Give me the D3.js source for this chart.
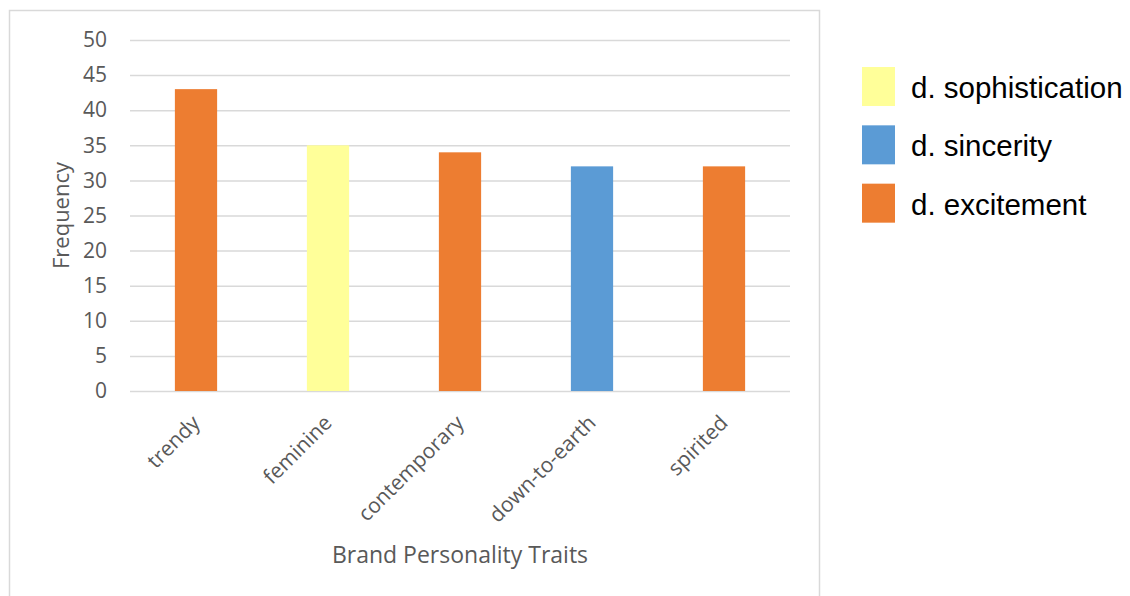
<!DOCTYPE html>
<html>
<head>
<meta charset="utf-8">
<script src="https://cdn.jsdelivr.net/npm/d3@7"></script>
<style>
  body { margin: 0; background: #fff; }
  svg { display: block; }
</style>
</head>
<body>
<div id="chart"></div>
<script>
// chart data
const traits = ["trendy", "feminine", "contemporary", "down-to-earth", "spirited"];
const frequency = [43, 35, 34, 32, 32];
const traitDimension = ["d. excitement", "d. sophistication", "d. excitement", "d. sincerity", "d. excitement"];
const legendItems = ["d. sophistication", "d. sincerity", "d. excitement"];
const legendColors = ["#FFFF99", "#5B9BD5", "#ED7D31"];
const yTicks = [0, 5, 10, 15, 20, 25, 30, 35, 40, 45, 50];

const WIDTH = 1130;
const HEIGHT = 596;
const plot = { left: 130, right: 790, top: 40, bottom: 391 };

var svg = d3.select("#chart")
  .append("svg")
  .attr("width", WIDTH)
  .attr("height", HEIGHT);

// chart area outline (bottom edge runs off the picture)
svg.append("rect")
  .attr("x", 9.5)
  .attr("y", 10.5)
  .attr("width", 810)
  .attr("height", 640)
  .attr("fill", "#fff")
  .attr("stroke", "#D9D9D9")
  .attr("stroke-width", 1.5);

var x = d3.scaleBand()
  .domain(traits)
  .range([plot.left, plot.right])
  .paddingInner(0.68)
  .paddingOuter(0.34);

var y = d3.scaleLinear()
  .domain([0, 50])
  .range([plot.bottom, plot.top]);

var color = d3.scaleOrdinal()
  .domain(legendItems)
  .range(legendColors);

// gridlines + y labels
var yAxis = svg.append("g")
  .attr("transform", "translate(" + plot.left + ",0)")
  .call(d3.axisLeft(y).tickValues(yTicks).tickSize(-(plot.right - plot.left)).tickPadding(23));

yAxis.select(".domain").remove();
yAxis.selectAll(".tick line")
  .attr("stroke", "#D9D9D9")
  .attr("stroke-width", 1.5);
yAxis.selectAll(".tick text")
  .attr("font-family", "Open Sans")
  .attr("font-size", 21)
  .attr("fill", "#595959");

// bars
svg.append("g")
  .selectAll("rect")
  .data(traits)
  .enter().append("rect")
  .attr("x", function(d) { return x(d); })
  .attr("y", function(d, i) { return y(frequency[i]); })
  .attr("width", x.bandwidth())
  .attr("height", function(d, i) { return y(0) - y(frequency[i]); })
  .attr("fill", function(d, i) { return color(traitDimension[i]); });

// x labels, rotated
var xAxis = svg.append("g")
  .attr("transform", "translate(0," + plot.bottom + ")")
  .call(d3.axisBottom(x).tickSize(0).tickPadding(0));

xAxis.select(".domain").remove();
xAxis.selectAll(".tick text")
  .attr("font-family", "Open Sans")
  .attr("font-size", 21)
  .attr("fill", "#595959")
  .attr("text-anchor", "end")
  .attr("dy", "0.35em")
  .attr("transform", "translate(0,28) rotate(-45)");

// axis titles
svg.append("text")
  .attr("x", (plot.left + plot.right) / 2)
  .attr("y", 563)
  .attr("text-anchor", "middle")
  .attr("font-family", "Open Sans")
  .attr("font-size", 23)
  .attr("fill", "#595959")
  .text("Brand Personality Traits");

svg.append("text")
  .attr("transform", "translate(69," + ((plot.top + plot.bottom) / 2) + ") rotate(-90)")
  .attr("text-anchor", "middle")
  .attr("font-family", "Open Sans")
  .attr("font-size", 22)
  .attr("fill", "#595959")
  .text("Frequency");

// legend
var legendY = d3.scaleBand()
  .domain(legendItems)
  .range([58, 233]);

var legend = svg.append("g")
  .selectAll("g")
  .data(legendItems)
  .enter().append("g")
  .attr("transform", function(d) { return "translate(862," + legendY(d) + ")"; });

legend.append("rect")
  .attr("y", 9)
  .attr("width", 33)
  .attr("height", 39)
  .attr("fill", function(d) { return color(d); });

legend.append("text")
  .attr("x", 49)
  .attr("y", 40)
  .attr("font-family", "Liberation Sans, Arial")
  .attr("font-size", 29.5)
  .attr("fill", "#000")
  .text(function(d) { return d; });
</script>
</body>
</html>
